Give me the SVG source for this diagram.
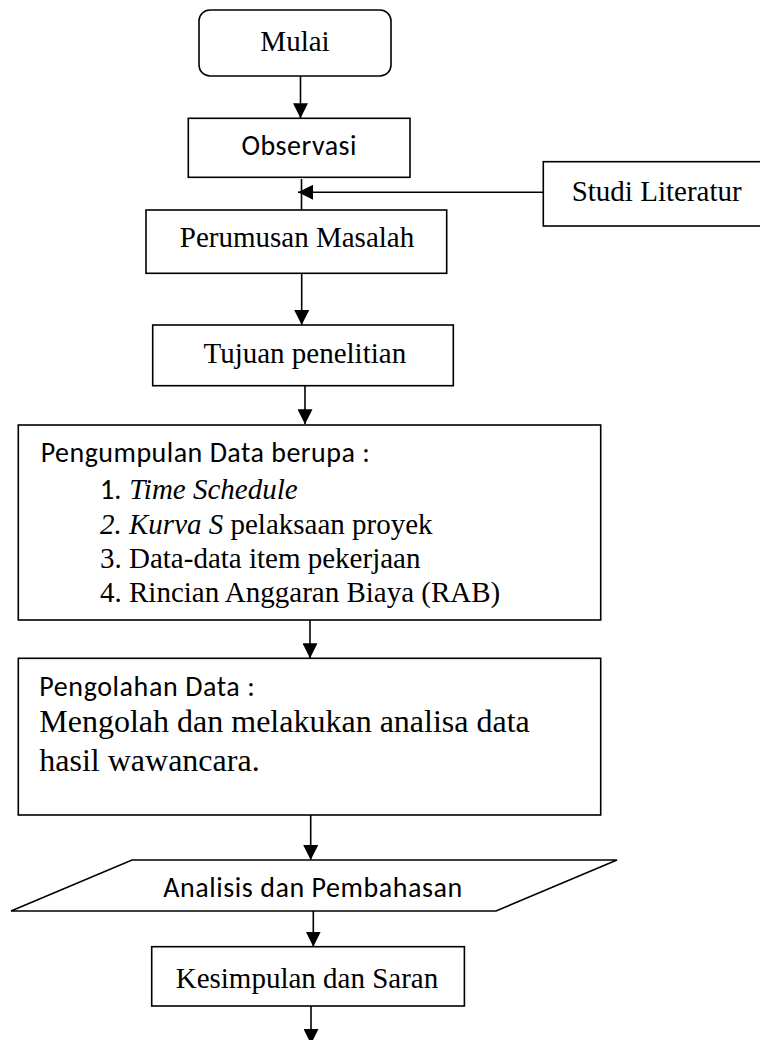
<svg xmlns="http://www.w3.org/2000/svg" width="760" height="1040" viewBox="0 0 760 1040">
<style>
.box{fill:#fff;stroke:#000;stroke-width:1.6}
.serif{font-family:"Liberation Serif","Times New Roman",serif;font-size:29px;fill:#000}
.big{font-size:32px}
.sans{font-family:Carlito,Lato,"Liberation Sans",sans-serif;font-size:28px;fill:#000}
.it{font-style:italic}
.conn{stroke:#000;stroke-width:1.6;fill:none}
</style>
<defs>
<marker id="ah" markerUnits="userSpaceOnUse" markerWidth="15" markerHeight="15" viewBox="0 0 15 15" refX="15" refY="7.5" orient="auto">
<path d="M0,0 L15,7.5 L0,15 Z" fill="#000"/>
</marker>
</defs>
<rect width="760" height="1040" fill="#fff"/>
<g id="connectors">
<path class="conn" d="M300.5,76 V118.3" marker-end="url(#ah)"/>
<path class="conn" d="M301.5,179 V210"/>
<path class="conn" d="M543.3,192.3 H298" marker-end="url(#ah)"/>
<path class="conn" d="M301.7,273.3 V325" marker-end="url(#ah)"/>
<path class="conn" d="M305,385.7 V424.3" marker-end="url(#ah)"/>
<path class="conn" d="M310,620 V658.3" marker-end="url(#ah)"/>
<path class="conn" d="M310.7,815 V860" marker-end="url(#ah)"/>
<path class="conn" d="M313.3,911 V946.7" marker-end="url(#ah)"/>
<path class="conn" d="M311,1006 V1044" marker-end="url(#ah)"/>
</g>
<g id="mulai">
<rect class="box" x="199" y="10" width="192" height="66" rx="11"/>
<text class="serif" x="295" y="51" text-anchor="middle">Mulai</text>
</g>
<g id="observasi">
<rect class="box" x="188.3" y="118.3" width="221.7" height="59"/>
<text class="sans" x="299" y="155" text-anchor="middle" textLength="115">Observasi</text>
</g>
<g id="studi-literatur">
<rect class="box" x="543.3" y="161.7" width="222" height="64.3"/>
<text class="serif" x="571.7" y="201">Studi Literatur</text>
</g>
<g id="perumusan-masalah">
<rect class="box" x="146" y="210" width="300.7" height="63.3"/>
<text class="serif" x="297" y="247" text-anchor="middle">Perumusan Masalah</text>
</g>
<g id="tujuan-penelitian">
<rect class="box" x="152.7" y="325" width="300.6" height="60.7"/>
<text class="serif" x="304.8" y="363" text-anchor="middle">Tujuan penelitian</text>
</g>
<g id="pengumpulan-data">
<rect class="box" x="18.3" y="425" width="582.4" height="195"/>
<text class="sans" x="40.7" y="462" textLength="329">Pengumpulan Data berupa :</text>
<text class="serif" y="499"><tspan class="sans" x="100" font-size="28">1.</tspan><tspan class="it" x="129.3">Time Schedule</tspan></text>
<text class="serif" y="534"><tspan class="it" x="100">2. Kurva S</tspan> pelaksaan proyek</text>
<text class="serif" x="100" y="568">3. Data-data item pekerjaan</text>
<text class="serif" x="100" y="602">4. Rincian Anggaran Biaya (RAB)</text>
</g>
<g id="pengolahan-data">
<rect class="box" x="18.3" y="658.3" width="582.4" height="156.7"/>
<text class="sans" x="39.3" y="696" textLength="215.5">Pengolahan Data :</text>
<text class="serif big" x="39.3" y="732">Mengolah dan melakukan analisa data</text>
<text class="serif big" x="39.3" y="771">hasil wawancara.</text>
</g>
<g id="analisis-pembahasan">
<polygon class="box" points="132,860 617,860 496,911 11,911"/>
<text class="sans" x="312.7" y="897" text-anchor="middle" textLength="299">Analisis dan Pembahasan</text>
</g>
<g id="kesimpulan-saran">
<rect class="box" x="151.7" y="946.7" width="312.7" height="59.3"/>
<text class="serif" x="175.7" y="988">Kesimpulan dan Saran</text>
</g>
</svg>
